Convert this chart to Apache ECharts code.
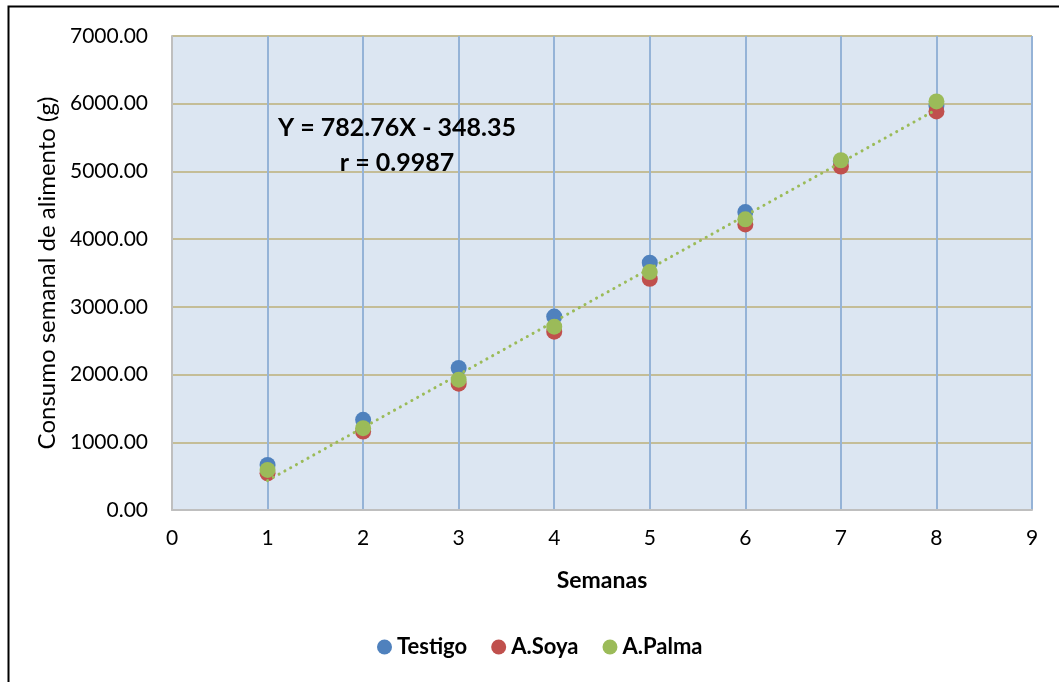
<!DOCTYPE html>
<html><head><meta charset="utf-8">
<script src="https://cdn.jsdelivr.net/npm/echarts@6/dist/echarts.min.js"></script>
<style>html,body{margin:0;padding:0;background:#fff}#c{width:1059px;height:682px}</style>
</head><body><div id="c"></div>
<script>
const weeks = [1, 2, 3, 4, 5, 6, 7, 8];
const testigo = [666, 1332, 2097, 2856, 3651, 4400, 5150, 5969];
const soya = [543, 1159, 1865, 2634, 3414, 4218, 5071, 5886];
const palma = [592, 1209, 1924, 2708, 3513, 4292, 5165, 6034];
const trendCoef = [782.76, -348.35]; // slope, intercept
const trendRange = [1, 8];
const seriesNames = ['Testigo', 'A.Soya', 'A.Palma'];
const eqLines = ['Y = 782.76X - 348.35', 'r = 0.9987'];

const colors = ['#4F81BD', '#C0504D', '#9BBB59'];
const font = 'Lato, "Open Sans", sans-serif';
const chart = echarts.init(document.getElementById('c'));
const pts = (arr) => weeks.map((w, i) => [w, arr[i]]);
const trend = trendRange.map(x => [x, trendCoef[0] * x + trendCoef[1]]);

chart.setOption({
  animation: false,
  backgroundColor: '#fff',
  textStyle: { fontFamily: font },
  grid: { left: 172, right: 27, top: 36, bottom: 172, show: true, backgroundColor: '#DCE6F2', borderWidth: 0 },
  xAxis: {
    type: 'value', min: 0, max: 9, interval: 1,
    name: 'Semanas', nameLocation: 'middle', nameGap: 59,
    nameTextStyle: { fontSize: 23, fontWeight: 'bold', color: '#000', fontFamily: font },
    axisLine: { show: true, lineStyle: { color: '#BFBFBF', width: 2 } },
    axisTick: { show: false },
    axisLabel: { fontSize: 21, color: '#000', margin: 18, fontFamily: font },
    splitLine: { show: true, lineStyle: { color: '#95B3D7', width: 2 } }
  },
  yAxis: {
    type: 'value', min: 0, max: 7000, interval: 1000,
    name: 'Consumo semanal de alimento (g)', nameLocation: 'middle', nameGap: 113,
    nameTextStyle: { fontSize: 24, color: '#000', fontFamily: font },
    axisLine: { show: true, lineStyle: { color: '#BFBFBF', width: 2 } },
    axisTick: { show: false },
    axisLabel: { fontSize: 21, color: '#000', margin: 24, fontFamily: font, formatter: v => v.toFixed(2) },
    splitLine: { show: true, lineStyle: { color: '#C4BD97', width: 2 } }
  },
  legend: {
    data: seriesNames, bottom: 19, left: 372, itemGap: 24, itemWidth: 15, itemHeight: 15,
    icon: 'circle',
    textStyle: { fontSize: 22, fontWeight: 'bold', color: '#000', fontFamily: font, padding: [0, 0, 0, 0] }
  },
  series: [
    { name: seriesNames[0], type: 'scatter', data: pts(testigo), symbolSize: 16, itemStyle: { color: colors[0], opacity: 1 }, z: 2 },
    { name: seriesNames[1], type: 'scatter', data: pts(soya), symbolSize: 16, itemStyle: { color: colors[1], opacity: 1 }, z: 3 },
    { name: seriesNames[2], type: 'scatter', data: pts(palma), symbolSize: 16, itemStyle: { color: colors[2], opacity: 1 }, z: 4 },
    { name: 'trend', type: 'line', data: trend, showSymbol: false, symbol: 'none', silent: true, z: 5,
      lineStyle: { color: '#9BBB59', width: 3, type: [0.1, 6.5], cap: 'round' } }
  ],
  graphic: [
    { type: 'rect', left: 6, top: 4, shape: { width: 1100, height: 720 }, style: { fill: 'none', stroke: '#000', lineWidth: 2 }, z: 100 },
    { type: 'text', x: 397, y: 128, style: { text: eqLines[0], font: 'bold 25px ' + font, fill: '#000', align: 'center', verticalAlign: 'middle' }, z: 50 },
    { type: 'text', x: 397, y: 163, style: { text: eqLines[1], font: 'bold 25px ' + font, fill: '#000', align: 'center', verticalAlign: 'middle' }, z: 50 }
  ]
});
</script></body></html>
